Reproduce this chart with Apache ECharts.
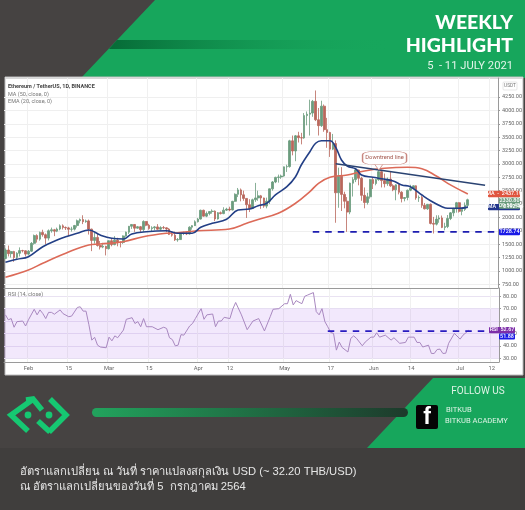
<!DOCTYPE html>
<html><head><meta charset="utf-8">
<style>html,body{margin:0;padding:0;background:#464342}#c{width:525px;height:510px}</style>
<script src="https://cdn.jsdelivr.net/npm/echarts@6/dist/echarts.min.js"></script>
</head><body><div id="c"></div>
<script>
// Day 0 is 24 Jan 2021; the axis holds 172 daily slots
const slotCount = 172;
const tickSlots = [8,22,36,50,67,78,97,113,128,141,158,169];
const tickLabels = ['Feb','15','Mar','15','Apr','12','May','17','Jun','14','Jul','12'];
const priceTicks = [750,1000,1250,1500,1750,2000,2250,2500,2750,3000,3250,3500,3750,4000,4250];
const rsiTicks = [30,40,50,60,70,80];
// [open, close, low, high]
const candles = [
[1233,1391,1220,1420],[1391,1323,1270,1475],[1323,1362,1250,1375],[1362,1252,1170,1375],[1252,1330,1220,1350],[1330,1380,1270,1440],[1380,1376,1345,1395],[1376,1314,1270,1385],
[1314,1369,1290,1390],[1369,1515,1355,1540],[1515,1660,1490,1680],[1660,1594,1530,1685],[1594,1719,1565,1735],[1719,1677,1640,1770],[1677,1613,1500,1700],[1613,1750,1570,1775],[1750,1769,1715,1810],[1769,1743,1650,1785],[1743,1783,1725,1810],[1783,1843,1760,1870],[1843,1813,1775,1870],[1813,1804,1765,1830],
[1804,1779,1650,1825],[1779,1781,1735,1825],[1781,1848,1755,1860],[1848,1937,1810,1960],[1937,1960,1890,1980],[1960,1920,1875,2040],[1920,1935,1900,1960],[1935,1781,1680,1960],[1781,1570,1370,1790],[1570,1626,1510,1710],[1626,1475,1455,1695],[1475,1446,1400,1560],[1446,1459,1425,1525],[1459,1416,1290,1470],
[1416,1564,1400,1570],[1564,1491,1460,1600],[1491,1575,1480,1650],[1575,1541,1460,1620],[1541,1532,1440,1550],[1532,1654,1505,1665],[1654,1724,1640,1735],[1724,1835,1690,1840],[1835,1868,1785,1875],[1868,1799,1730,1875],[1799,1826,1790,1840],[1826,1772,1725,1840],[1772,1924,1730,1945],[1924,1854,1835,1930],
[1854,1791,1770,1880],[1791,1806,1730,1835],[1806,1823,1760,1840],[1823,1780,1770,1875],[1780,1810,1755,1835],[1810,1805,1780,1840],[1805,1782,1725,1815],[1782,1682,1670,1800],[1682,1668,1640,1725],[1668,1581,1560,1735],[1581,1586,1545,1615],[1586,1700,1580,1710],[1700,1715,1670,1735],[1715,1690,1670,1740],[1690,1817,1680,1835],[1817,1846,1770,1855],[1846,1919,1840,1945],
[1919,1969,1905,1990],[1969,2133,1960,2145],[2133,2024,2015,2145],[2024,2073,2005,2110],[2073,2110,2040,2115],[2110,2118,2070,2150],[2118,1971,1930,2130],[1971,2088,1960,2100],[2088,2071,2055,2110],[2071,2136,2060,2190],[2136,2155,2120,2180],
[2155,2139,2115,2200],[2139,2300,2130,2310],[2300,2432,2290,2450],[2432,2514,2380,2550],[2514,2422,2300,2540],[2422,2355,2310,2500],[2355,2237,1990,2360],[2237,2166,2100,2340],[2166,2330,2165,2350],[2330,2364,2290,2645],[2364,2403,2310,2500],[2403,2363,2160,2420],[2363,2211,2180,2370],[2211,2303,2170,2370],[2303,2534,2250,2540],[2534,2662,2500,2680],[2662,2748,2640,2760],[2748,2756,2650,2800],[2756,2773,2720,2800],
[2773,2945,2760,2950],[2945,2950,2850,2985],[2950,3431,2930,3450],[3431,3241,3160,3530],[3241,3524,3050,3540],[3524,3490,3400,3600],[3490,3484,3365,3580],[3484,3903,3470,3950],[3903,3928,3720,3980],[3928,3950,3530,4200],[3950,4169,3880,4195],[4169,3825,3800,4372],[3825,3715,3530,4045],[3715,4079,3690,4180],[4079,3640,3600,4110],[3640,3587,3300,3860],
[3587,3275,3130,3600],[3275,3380,3260,3560],[3380,2460,1900,3440],[2460,2770,2180,2930],[2770,2430,2120,2940],[2430,2302,2170,2480],[2302,2100,1730,2380],[2100,2640,2060,2650],[2640,2707,2390,2750],[2707,2886,2660,2910],[2886,2732,2600,2890],[2732,2412,2310,2760],[2412,2278,2170,2560],[2278,2385,2240,2460],[2385,2706,2350,2720],
[2706,2633,2530,2740],[2633,2706,2600,2720],[2706,2855,2685,2890],[2855,2688,2560,2890],[2688,2630,2560,2820],[2630,2716,2590,2745],[2716,2590,2570,2850],[2590,2517,2490,2620],[2517,2608,2320,2620],[2608,2471,2430,2620],[2471,2353,2280,2490],[2353,2372,2300,2380],[2372,2508,2320,2520],
[2508,2547,2490,2610],[2547,2590,2530,2600],[2590,2365,2330,2600],[2365,2372,2290,2410],[2372,2225,2180,2400],[2225,2160,2150,2270],[2160,2245,2140,2250],[2245,1888,1870,2260],[1888,1874,1700,2010],[1874,1968,1850,2040],[1968,1990,1900,2040],[1990,1813,1800,2035],[1813,1829,1760,1900],[1829,1980,1800,2045],[1980,2085,1950,2100],[2085,2160,2020,2180],[2160,2275,2090,2290],
[2275,2113,2090,2285],[2113,2150,2040,2160],[2150,2225,2120,2280],[2225,2330,2190,2350]
];
// [slot, value]
const ema20 = [[0,1161],[4,1217],[8,1266],[13,1453],[18,1578],[21,1640],[25,1703],[29,1765],[33,1671],[37,1610],[41,1597],[44,1690],[49,1733],[56,1752],[60,1703],[65,1703],[68,1815],[72,1890],[77,1965],[81,2139],[85,2157],[88,2219],[91,2264],[94,2419],[98,2574],[101,2761],[103,2979],[106,3228],[108,3385],[110,3433],[113,3433],[115,3310],[117,3073],[119,2961],[122,2905],[124,2793],[128,2750],[131,2723],[135,2680],[138,2606],[141,2574],[145,2419],[148,2312],[152,2200],[154,2170],[158,2170],[161,2192]];
const ma50 = [[0,881],[8,1017],[13,1143],[21,1330],[29,1485],[33,1503],[41,1546],[48,1640],[56,1703],[60,1714],[67,1752],[78,1784],[84,1890],[88,1961],[95,2077],[101,2264],[106,2481],[109,2637],[113,2750],[119,2793],[125,2867],[132,2918],[140,2936],[145,2910],[150,2774],[154,2637],[161,2437]];
const rsi14 = [[0,65],[1,61],[2,62],[3,55],[4,59.5],[6,60],[7,56],[8,61],[10,69.5],[11,65],[12,69],[13,66],[14,62],[15,67],[16,67],[17,65.5],[19,69],[20,66],[22,63.5],[23,64],[25,71],[26,71.5],[27,68],[28,68],[29,57],[30,44.6],[31,46.8],[32,40.5],[33,39],[35,38.4],[36,47],[37,44],[38,48],[39,46.5],[41,52.7],[42,61.4],[44,62.7],[45,58],[46,59.5],[47,55.4],[48,62],[49,55.4],[51,55.4],[53,53],[55,55],[56,54],[57,46.5],[58,45],[59,40],[60,40.5],[61,49],[62,48.6],[64,56],[65,58],[66,62],[68,70],[69,61.4],[70,65],[72,65.7],[73,55.4],[74,60],[75,60],[76,63],[78,62],[79,69.7],[80,75],[82,65],[84,53],[86,60],[88,62],[90,52],[92,63.5],[93,69.5],[95,70],[97,74],[98,74],[99,81.6],[100,73],[101,76.5],[103,74],[104,80],[105,81],[107,83],[108,67.6],[109,65],[110,70],[111,59.5],[112,55.4],[113,50.8],[114,50],[115,36.5],[116,43],[117,38.6],[119,35],[120,46],[121,48],[122,46],[124,40],[125,43],[127,47],[128,47],[129,50.5],[130,47],[132,48.6],[134,44.6],[135,46.5],[137,42],[139,42.7],[140,47],[142,47],[143,42.7],[144,42.7],[145,39],[147,40.5],[148,33.8],[149,33.8],[150,37],[151,37.3],[152,33.8],[153,34],[154,42],[156,50],[158,45.4],[159,48.6],[160,50.5],[161,52.67]];
const trendLine = [[115,3004],[167,2600]];
const supportLine = [[107,1728.74],[171,1728.74]];
const rsiLine = [[112,51.88],[171,51.88]];
const rsiBand = [30,70];
const calloutAt = [132,3110];
const pointerAt = [130,2950];
const tags = [
 {value:2437.19,text:'MA  -  2437.19',bg:'#e0553f',wide:true},
 {value:2192.44,text:'EMA  -  2192.44',bg:'#22368c',wide:true},
 {value:1728.74,text:'1728.74',bg:'#1a1ae6',wide:false}
];

const categories = Array.from({length:slotCount},(_,i)=>String(i));
const isTick = i => tickSlots.includes(+i);
const axisFont = 'Roboto, sans-serif';
const thaiFont = '"Liberation Sans", "Noto Sans", sans-serif';
const dark='#464342', green='#17a65c';

const chart = echarts.init(document.getElementById('c'),null,{renderer:'canvas'});
const poly=(pts,fill,z)=>({type:'polygon',z:z||-5,shape:{points:pts},style:{fill}});
const grad=(stops)=>new echarts.graphic.LinearGradient(0,0,1,0,stops);
const bar=(x,y,w,h,stops)=>({type:'rect',z:-3,shape:{x,y,width:w,height:h,r:h/2},style:{fill:grad(stops)}});
const txt=(x,y,text,size,fill,o)=>({type:'text',z:o&&o.z||20,x,y,style:Object.assign({text,fontSize:size,fill,fontFamily:'Roboto, sans-serif',align:'left',verticalAlign:'middle'},o||{})});
const chev=(pts)=>({type:'polyline',z:5,shape:{points:pts},style:{stroke:'#16c872',lineWidth:5.5,fill:null,lineJoin:'miter'}});
const dot=(cx,cy)=>({type:'circle',z:5,shape:{cx,cy,r:3.4},style:{fill:'#16c872'}});

const base=[
  poly([[155,0],[525,0],[525,78],[81,78]],green),
  poly([[117,40],[392,40],[392,49],[109,49]],grad([{offset:0,color:'#066a36'},{offset:1,color:'rgba(23,166,92,0)'}]),-3),
  {type:'rect',z:-5,shape:{x:0,y:448,width:525,height:62},style:{fill:'#403e3d'}},
  poly([[433,378],[525,378],[525,448],[367,448]],green,-4),
  bar(92,408,316,9,[{offset:0,color:'#22a35d'},{offset:1,color:'#1d3a2b'}]),
  {type:'rect',z:-4,shape:{x:5,y:77,width:518,height:298},style:{fill:'#fff',stroke:'#bdbdbd',lineWidth:1}},
  {type:'rect',z:-2,shape:{x:5,y:77,width:518,height:2},style:{fill:'#d8d8d8'}},
  txt(513,23,'WEEKLY',19.5,'#fff',{align:'right',fontWeight:900,fontFamily:'Lato, sans-serif'}),
  txt(513,46,'HIGHLIGHT',19.5,'#fff',{align:'right',fontWeight:900,fontFamily:'Lato, sans-serif'}),
  txt(513,66,'5  - 11 JULY 2021',11.2,'#e3f5ea',{align:'right'}),
  txt(8,87,'Ethereum / TetherUS, 1D, BINANCE',5.5,'#444',{fontWeight:700}),
  txt(8,94.5,'MA (50, close, 0)',5.5,'#777'),
  txt(8,101.5,'EMA (20, close, 0)',5.5,'#777'),
  txt(8,295,'RSI (14, close)',5.5,'#777'),
  txt(510,86,'USDT',4.8,'#777',{align:'center'}),
  {type:'rect',z:10,shape:{x:503,y:82,width:14,height:8,r:1},style:{fill:null,stroke:'#ccc',lineWidth:.5}},
  chev([[32,400],[11,415],[28,431]]),chev([[26,400],[33,399],[42,410]]),
  chev([[50,399],[66,415],[49,432]]),chev([[50,432],[38,421]]),
  dot(28,415),dot(49,415),
  {type:'rect',z:5,shape:{x:416,y:405,width:22,height:24,r:2},style:{fill:'#050505'}},
  txt(427,418,'f',23,'#fff',{align:'center',fontWeight:700,fontFamily:'Liberation Sans, sans-serif',z:6}),
  txt(478,391,'FOLLOW US',10,'#dff3e6',{align:'center'}),
  txt(446,410,'BITKUB',7.6,'#dff3e6'),
  txt(445,421,'BITKUB ACADEMY',7.6,'#dff3e6'),
  txt(20,472,'อัตราแลกเปลี่ยน ณ วันที่ ราคาแปลงสกุลเงิน USD (~ 32.20 THB/USD)',11.2,'#e6e6e6',{fontFamily:thaiFont}),
  txt(20,487,'ณ อัตราแลกเปลี่ยนของวันที่ 5  กรกฎาคม 2564',11.2,'#e6e6e6',{fontFamily:thaiFont})
];
base.forEach((e,i)=>{e.id='b'+i;});

chart.setOption({
 animation:false,
 backgroundColor:dark,
 graphic:{elements:base},
 grid:[
  {left:4,right:26,top:78,height:210,show:false},
  {left:4,right:26,top:288,height:74,show:false}
 ],
 xAxis:[0,1].map(g=>({
  type:'category',gridIndex:g,data:categories,boundaryGap:true,
  axisLine:{show:true,lineStyle:{color:'#9a9a9a',width:1}},
  axisTick:{show:false},
  axisLabel:g===1?{show:true,interval:(i)=>isTick(i),formatter:(v)=>tickLabels[tickSlots.indexOf(+v)],fontSize:5.8,color:'#666',fontFamily:axisFont,margin:4}:{show:false},
  splitLine:{show:true,interval:(i)=>isTick(i),lineStyle:{color:'#f0f0f0',width:1}}
 })),
 yAxis:[
  {type:'value',gridIndex:0,position:'right',min:681,max:4605,scale:true,
   axisLine:{show:true,lineStyle:{color:'#9a9a9a'}},
   axisTick:{show:true,length:2,customValues:priceTicks,lineStyle:{color:'#9a9a9a'}},
   axisLabel:{customValues:priceTicks,formatter:v=>v.toFixed(2),fontSize:5.5,color:'#666',fontFamily:axisFont,margin:4},
   splitLine:{show:true,lineStyle:{color:'#efefef',width:1}}},
  {type:'value',gridIndex:1,position:'right',min:26.9,max:86.7,scale:true,
   axisLine:{show:true,lineStyle:{color:'#9a9a9a'}},
   axisTick:{show:true,length:2,customValues:rsiTicks,lineStyle:{color:'#9a9a9a'}},
   axisLabel:{customValues:rsiTicks,formatter:v=>v.toFixed(2),fontSize:5.5,color:'#666',fontFamily:axisFont,margin:4},
   splitLine:{show:true,lineStyle:{color:'#e9e2f2',width:1}}}
 ],
 series:[
  {type:'candlestick',name:'ETH',xAxisIndex:0,yAxisIndex:0,data:candles,barWidth:2.2,
   itemStyle:{color:'#6b9c7d',color0:'#b9675c',borderColor:'#6b9c7d',borderColor0:'#b9675c',borderWidth:.8},
   markPoint:{silent:true,animation:false,data:[
    {coord:pointerAt,symbol:'triangle',symbolRotate:180,symbolSize:[10,7],itemStyle:{color:'#fff',borderColor:'#c9877f',borderWidth:.8},label:{show:false}},
    {coord:calloutAt,symbol:'roundRect',symbolSize:[44,13],itemStyle:{color:'#fff',borderColor:'#c9877f',borderWidth:.8},
     label:{show:true,position:'inside',formatter:'Downtrend line',fontSize:5.8,color:'#a2564c',fontFamily:axisFont}}
   ]}},
  {type:'line',name:'MA',xAxisIndex:0,yAxisIndex:0,data:ma50,smooth:.4,showSymbol:false,lineStyle:{color:'#dc6a58',width:1.6}},
  {type:'line',name:'EMA',xAxisIndex:0,yAxisIndex:0,data:ema20,smooth:.4,showSymbol:false,lineStyle:{color:'#233f86',width:1.6}},
  {type:'line',name:'Trend',xAxisIndex:0,yAxisIndex:0,data:trendLine,showSymbol:false,lineStyle:{color:'#2a4372',width:1.6}},
  {type:'line',name:'Support',xAxisIndex:0,yAxisIndex:0,data:supportLine,showSymbol:false,lineStyle:{color:'#1c1cb0',width:1.8,type:[6.5,6]}},
  {type:'line',name:'RSI',xAxisIndex:1,yAxisIndex:1,data:rsi14,showSymbol:false,lineStyle:{color:'#a988c0',width:1},
   markArea:{silent:true,itemStyle:{color:'rgba(176,120,235,0.17)'},data:[[{yAxis:rsiBand[1]},{yAxis:rsiBand[0]}]]}},
  {type:'line',name:'RSI level',xAxisIndex:1,yAxisIndex:1,data:rsiLine,showSymbol:false,z:4,lineStyle:{color:'#2a1cc0',width:1.8,type:[6.5,6]}}
 ]
});

// price tags sit on the right scale, placed through the library's own axes
const tag=(y,x,w,h,fill,text,tc)=>[
 {type:'rect',z:30,shape:{x,y:y-h/2,width:w,height:h,r:1},style:{fill}},
 {type:'text',z:31,x:x+w/2,y,style:{text,fontSize:5.4,fill:tc||'#fff',fontFamily:axisFont,align:'center',verticalAlign:'middle',fontWeight:500}}
];
const py=v=>chart.convertToPixel({yAxisIndex:0},v);
const ry=v=>chart.convertToPixel({yAxisIndex:1},v);
let extra=[];
tags.forEach(t=>{extra=extra.concat(tag(py(t.value),t.wide?488:499,t.wide?32:21,6.4,t.bg,t.text));});
extra=extra.concat(tag(py(2330.8)+3.5,499,21,11,'#6b9c7d','2330.80\n09:50:45'));
extra=extra.concat(tag(ry(52.67),489,26,6.4,'#7d2ea8','RSI  52.67'));
extra=extra.concat(tag(ry(52.67)+6.4,499,16,6.2,'#1a1ae6','51.88'));
extra.forEach((e,i)=>{e.id='x'+i;});
chart.setOption({graphic:{elements:extra}});
</script></body></html>
